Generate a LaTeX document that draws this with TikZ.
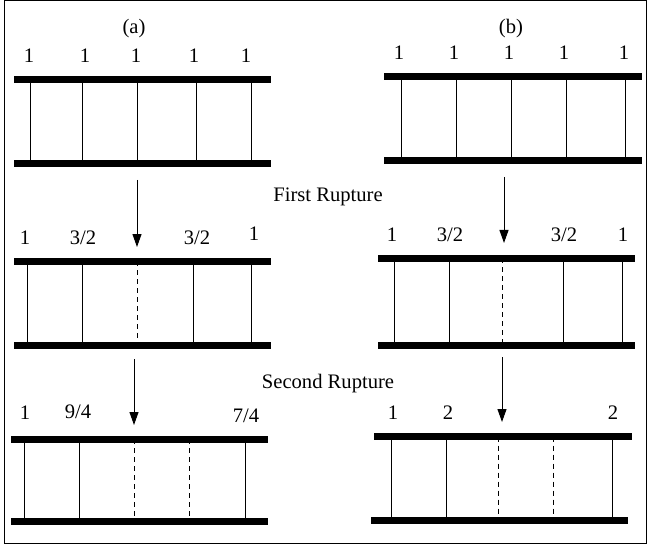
\documentclass[tikz,border=0pt]{standalone}
\usepackage{fontspec}
\setmainfont{Liberation Serif}
\usetikzlibrary{arrows.meta}
\tikzset{
  bar/.style={line width=3.5pt},
  rung/.style={line width=0.5pt},
  broken/.style={rung, dash pattern=on 2.5pt off 2pt},
  lbl/.style={font=\fontsize{10.3}{12}\selectfont, inner sep=0pt, anchor=base},
  drop/.style={-{Triangle[length=6.5pt,width=4.5pt]}, line width=0.5pt},
}
\begin{document}
\begin{tikzpicture}[x=0.5pt,y=-0.5pt]
\useasboundingbox (0,0) rectangle (647,545);
\draw[line width=0.5pt] (4,1) rectangle (646,543);

% panel (a), intact
\node[lbl] (ta) at (134,34) {(a)};
\draw[bar] (14,79.5) -- (271,79.5);
\draw[bar] (14,163.5) -- (271,163.5);
\foreach \x in {30,82,137,196,251} \draw[rung] (\x,79.5) -- (\x,163.5);
\foreach \x/\n in {29/1,85/2,136/3,194/4,246/5} \node[lbl] (a0\n) at (\x,63) {1};

% panel (b), intact
\node[lbl] (tb) at (511,34) {(b)};
\draw[bar] (384,76.5) -- (642,76.5);
\draw[bar] (384,160.5) -- (642,160.5);
\foreach \x in {401,456,511,566,625} \draw[rung] (\x,76.5) -- (\x,160.5);
\foreach \x/\n in {399/1,454/2,509/3,564/4,624/5} \node[lbl] (b0\n) at (\x,60) {1};

% first rupture
\node[lbl] (first) at (328,201.5) {First Rupture};
\coordinate (a1s) at (137,180);
\coordinate (a1e) at (137,247);
\coordinate (b1s) at (504,177);
\coordinate (b1e) at (504,243);
\draw[drop] (a1s) -- (a1e);
\draw[drop] (b1s) -- (b1e);

% panel (a), one broken
\draw[bar] (14,261) -- (271,261);
\draw[bar] (14,345.5) -- (271,345.5);
\foreach \x in {27,82,193,251} \draw[rung] (\x,261) -- (\x,345.5);
\draw[broken] (137,261) -- (137,345.5);
\node[lbl] (a11) at (25,244) {1};
\node[lbl] (a12) at (83,244) {3/2};
\node[lbl] (a13) at (197,244) {3/2};
\node[lbl] (a14) at (254,241) {1};

% panel (b), one broken
\draw[bar] (378,258.3) -- (635,258.3);
\draw[bar] (378,345.3) -- (635,345.3);
\foreach \x in {394,449,563,622} \draw[rung] (\x,258.3) -- (\x,345.3);
\draw[broken] (502,258.3) -- (502,345.3);
\node[lbl] (b11) at (392,241.5) {1};
\node[lbl] (b12) at (450,241.5) {3/2};
\node[lbl] (b13) at (564,241.5) {3/2};
\node[lbl] (b14) at (623,241.5) {1};

% second rupture
\node[lbl] (second) at (328,388) {Second Rupture};
\coordinate (a2s) at (134,359);
\coordinate (a2e) at (134,425);
\coordinate (b2s) at (502,357);
\coordinate (b2e) at (502,422);
\draw[drop] (a2s) -- (a2e);
\draw[drop] (b2s) -- (b2e);

% panel (a), two broken
\draw[bar] (11,439.3) -- (268,439.3);
\draw[bar] (11,521) -- (268,521);
\foreach \x in {24,79,245} \draw[rung] (\x,439.3) -- (\x,521);
\foreach \x in {134,189} \draw[broken] (\x,439.3) -- (\x,521);
\node[lbl] (a21) at (25,419.3) {1};
\node[lbl] (a22) at (78,418.5) {9/4};
\node[lbl] (a23) at (246,422.5) {7/4};

% panel (b), two broken
\draw[bar] (374,436.7) -- (632,436.7);
\draw[bar] (371,520.7) -- (628,520.7);
\foreach \x in {391,446,612} \draw[rung] (\x,436.7) -- (\x,520.7);
\foreach \x in {498,553} \draw[broken] (\x,436.7) -- (\x,520.7);
\node[lbl] (b21) at (393,419.3) {1};
\node[lbl] (b22) at (448,419.3) {2};
\node[lbl] (b23) at (613,419.3) {2};
\end{tikzpicture}
\end{document}
